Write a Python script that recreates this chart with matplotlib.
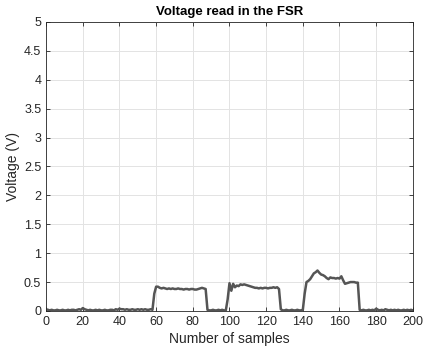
import matplotlib
matplotlib.use("Agg")
import matplotlib.pyplot as plt
import numpy as np

plt.rcParams['font.family'] = ['Liberation Sans', 'DejaVu Sans']

# FSR voltage readings, one value per sample (samples 1..200)
voltage = [
    # 1-58: idle
    0.02, 0.01, 0.02, 0.01, 0.01, 0.02, 0.01, 0.01, 0.02, 0.01,
    0.01, 0.02, 0.01, 0.02, 0.02, 0.01, 0.02, 0.03, 0.02, 0.05,
    0.03, 0.02, 0.01, 0.02, 0.01, 0.01, 0.02, 0.01, 0.02, 0.01,
    0.01, 0.02, 0.01, 0.01, 0.02, 0.02, 0.01, 0.03, 0.02, 0.04,
    0.03, 0.03, 0.02, 0.03, 0.02, 0.02, 0.03, 0.02, 0.02, 0.03,
    0.02, 0.03, 0.02, 0.03, 0.02, 0.02, 0.03, 0.02,
    # 59-87: first press
    0.30, 0.42, 0.42, 0.40, 0.39, 0.40, 0.39, 0.38, 0.39, 0.38,
    0.39, 0.38, 0.38, 0.39, 0.38, 0.38, 0.37, 0.38, 0.38, 0.37,
    0.38, 0.38, 0.37, 0.37, 0.38, 0.39, 0.40, 0.39, 0.38,
    # 88-98: release
    0.02, 0.01, 0.01, 0.02, 0.01, 0.01, 0.02, 0.01, 0.02, 0.01, 0.01,
    # 99-127: second press
    0.20, 0.48, 0.35, 0.47, 0.41, 0.44, 0.43, 0.46, 0.45, 0.46,
    0.45, 0.44, 0.43, 0.42, 0.41, 0.40, 0.40, 0.39, 0.40, 0.39,
    0.40, 0.40, 0.39, 0.40, 0.40, 0.41, 0.40, 0.41, 0.38,
    # 128-140: release
    0.03, 0.01, 0.01, 0.02, 0.01, 0.01, 0.02, 0.01, 0.01, 0.02,
    0.01, 0.01, 0.02,
    # 141-170: third press
    0.30, 0.50, 0.52, 0.55, 0.60, 0.65, 0.67, 0.70, 0.66, 0.63,
    0.62, 0.60, 0.57, 0.55, 0.58, 0.57, 0.57, 0.56, 0.57, 0.56,
    0.60, 0.53, 0.47, 0.48, 0.49, 0.50, 0.50, 0.50, 0.49, 0.49,
    # 171-200: idle
    0.02, 0.01, 0.02, 0.01, 0.01, 0.02, 0.01, 0.02, 0.01, 0.04,
    0.02, 0.01, 0.02, 0.01, 0.03, 0.02, 0.01, 0.02, 0.01, 0.02,
    0.01, 0.02, 0.01, 0.01, 0.02, 0.01, 0.02, 0.01, 0.02, 0.01,
]
samples = np.arange(1, len(voltage) + 1)

x_ticks = [0, 20, 40, 60, 80, 100, 120, 140, 160, 180, 200]
y_ticks = [0, 0.5, 1, 1.5, 2, 2.5, 3, 3.5, 4, 4.5, 5]
y_tick_labels = ['0', '0.5', '1', '1.5', '2', '2.5', '3', '3.5', '4', '4.5', '5']

fig = plt.figure(figsize=(4.23, 3.49), dpi=100)
ax = fig.add_axes([0.109, 0.109, 0.867, 0.828])

ax.plot(samples, voltage, color='#555555', linewidth=1.8)

ax.set_xlim(0, 200)
ax.set_ylim(0, 5)
ax.set_xticks(x_ticks)
ax.set_yticks(y_ticks)
ax.set_yticklabels(y_tick_labels)
ax.grid(True, color='#e3e3e3', linewidth=0.7)
ax.set_axisbelow(True)
ax.tick_params(direction='in', length=3, width=0.6, colors='#262626',
               labelsize=9, top=True, right=True, labeltop=False, labelright=False)
for s in ax.spines.values():
    s.set_color('#262626')
    s.set_linewidth(0.6)

ax.set_title('Voltage read in the FSR', fontsize=9.5, fontweight='bold', pad=5)
ax.set_xlabel('Number of samples', fontsize=10, color='#262626', labelpad=3)
ax.set_ylabel('Voltage (V)', fontsize=10, color='#262626', labelpad=3)

fig.savefig('out.png', dpi=100, facecolor='white')
